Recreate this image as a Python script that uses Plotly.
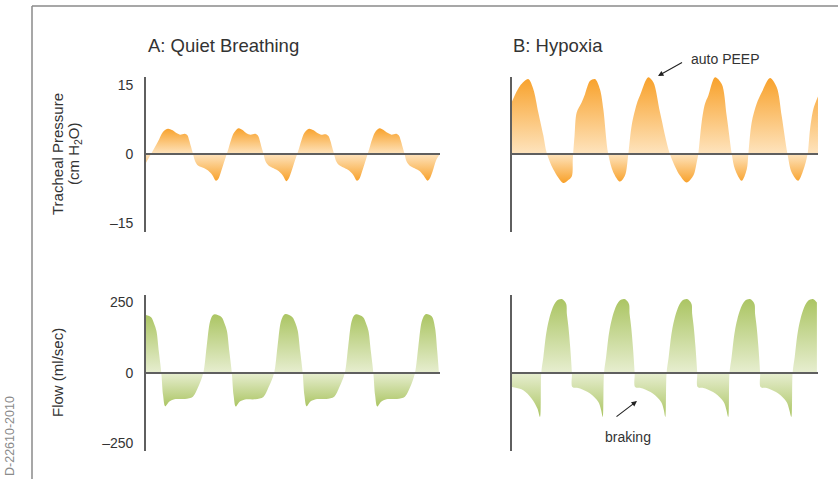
import plotly.graph_objects as go

# ---------------------------------------------------------------------------
# Data: time (s) and signal values, one list per series
# ---------------------------------------------------------------------------

# A: quiet breathing - tracheal pressure (cm H2O)
quiet_pressure_t = [
    0.00, 0.32, 0.68, 0.96,
    1.25, 1.48, 1.70, 1.93, 2.20, 2.35, 2.45, 2.56, 2.67, 2.78, 2.95, 3.24, 3.52, 3.75, 3.97, 4.09, 4.26, 4.48, 4.65, 4.82, 4.99,
    5.25, 5.48, 5.70, 5.93, 6.20, 6.35, 6.45, 6.56, 6.67, 6.78, 6.95, 7.24, 7.52, 7.75, 7.97, 8.09, 8.26, 8.48, 8.65, 8.82, 8.99,
    9.25, 9.48, 9.70, 9.93, 10.20, 10.35, 10.45, 10.56, 10.67, 10.78, 10.95, 11.24, 11.52, 11.75, 11.97, 12.09, 12.26, 12.48, 12.65, 12.82, 12.99,
    13.25, 13.48, 13.70, 13.93, 14.20, 14.35, 14.45, 14.56, 14.67, 14.78, 14.95, 15.24, 15.52, 15.75, 15.97, 16.09, 16.26, 16.48, 16.62,
]
quiet_pressure = [
    -1.9, 0.2, 2.7, 4.8,
    5.5, 5.2, 4.6, 4.2, 4.4, 4.1, 3.0, 1.5, 0.0, -1.5, -2.5, -3.0, -3.6, -4.5, -5.8, -5.5, -3.8, -1.2, 0.8, 3.0, 4.6,
    5.6, 5.2, 4.5, 4.2, 4.4, 4.0, 3.0, 1.4, 0.0, -1.6, -2.5, -3.1, -3.7, -4.6, -5.9, -5.4, -3.7, -1.1, 0.8, 3.0, 4.6,
    5.5, 5.2, 4.6, 4.2, 4.3, 3.9, 3.0, 1.5, 0.0, -1.5, -2.4, -3.0, -3.6, -4.5, -5.8, -5.5, -3.8, -1.2, 0.9, 3.1, 4.7,
    5.6, 5.2, 4.6, 4.2, 4.4, 4.0, 3.0, 1.5, 0.0, -1.6, -2.5, -3.1, -3.7, -4.7, -5.8, -5.4, -3.8, -1.2, -0.3,
]

# A: quiet breathing - flow (ml/sec)
quiet_flow_t = [
    0.00, 0.29, 0.46, 0.59, 0.73, 0.87, 0.97, 1.09, 1.31, 1.61, 2.21, 2.66, 2.96, 3.25, 3.44, 3.63, 3.79,
    3.91, 4.29, 4.46, 4.59, 4.73, 4.87, 4.97, 5.09, 5.31, 5.61, 6.21, 6.66, 6.96, 7.27, 7.46, 7.65, 7.81,
    7.93, 8.31, 8.48, 8.61, 8.75, 8.89, 8.99, 9.11, 9.33, 9.63, 10.23, 10.68, 10.98, 11.28, 11.47, 11.66, 11.82,
    11.94, 12.32, 12.49, 12.62, 12.76, 12.90, 13.00, 13.12, 13.34, 13.64, 14.24, 14.69, 14.99, 15.26, 15.45, 15.64, 15.80,
    15.92, 16.22, 16.40, 16.52, 16.62,
]
quiet_flow = [
    206, 198, 175, 150, 75, 0, -80, -118, -102, -93, -92, -84, -50, 0, 93, 182, 205,
    208, 198, 175, 150, 75, 0, -80, -119, -102, -94, -93, -85, -50, 0, 93, 182, 205,
    209, 198, 176, 150, 75, 0, -80, -118, -101, -93, -92, -84, -49, 0, 93, 182, 205,
    208, 198, 175, 150, 75, 0, -80, -119, -102, -93, -92, -84, -50, 0, 93, 182, 205,
    209, 200, 160, 80, 0,
]

# B: hypoxia - tracheal pressure (cm H2O)
hypoxia_pressure_t = [
    0.00, 0.45, 0.92, 1.21, 1.49, 1.78, 1.97, 2.34, 2.91, 3.15, 3.39, 3.45, 3.55, 3.67, 3.95, 4.14, 4.43, 4.71, 4.99, 5.18,
    5.46, 5.75, 6.13, 6.41, 6.60, 6.79, 7.08, 7.26, 7.73, 8.02, 8.40,
    8.96, 9.53, 9.91, 10.29, 10.48, 10.57, 10.76, 10.95, 11.14, 11.52, 11.90, 12.18,
    12.47, 12.65, 13.03, 13.32, 13.41, 13.60, 13.88, 14.17, 14.64, 15.02, 15.30,
    15.63, 15.87, 16.24, 16.53, 16.77, 16.91, 17.10, 17.36,
]
hypoxia_pressure = [
    11.4, 14.8, 16.3, 14.1, 9.1, 4.0, 0.2, -3.3, -6.3, -5.8, -4.9, -1.0, 4.0, 9.0, 11.2, 13.0, 15.9, 16.3, 14.1, 9.8,
    0.0, -4.0, -6.0, -4.7, 0.0, 6.2, 10.9, 12.7, 16.7, 15.6, 9.0,
    0.0, -4.7, -6.2, -4.7, -1.8, 0.0, 6.9, 10.9, 12.7, 16.7, 15.2, 8.3,
    0.0, -3.3, -5.8, -3.3, 0.0, 6.9, 10.9, 13.4, 16.5, 14.5, 8.3,
    0.0, -4.0, -5.8, -3.5, 0.0, 5.4, 9.8, 12.5,
]

# B: hypoxia - flow (ml/sec)
hypoxia_flow_t = [
    0.00, 0.64, 1.12, 1.44,
    1.59, 1.66, 1.78, 1.97, 2.25, 2.54, 2.82, 3.07, 3.11, 3.20, 3.30, 3.40, 3.43, 3.86, 4.43, 4.90, 5.05,
    5.15, 5.22, 5.34, 5.53, 5.81, 6.10, 6.38, 6.63, 6.67, 6.76, 6.86, 6.96, 6.99, 7.42, 7.99, 8.46, 8.61,
    8.70, 8.77, 8.89, 9.08, 9.36, 9.65, 9.93, 10.18, 10.22, 10.31, 10.41, 10.51, 10.54, 10.97, 11.54, 12.01, 12.16,
    12.27, 12.34, 12.46, 12.65, 12.93, 13.22, 13.50, 13.75, 13.79, 13.88, 13.98, 14.08, 14.11, 14.54, 15.11, 15.58, 15.73,
    15.85, 15.92, 16.04, 16.23, 16.51, 16.80, 17.08, 17.30,
]
hypoxia_flow = [
    -50, -61, -91, -126,
    -156, 0, 57, 151, 222, 256, 262, 246, 211, 164, 93, 0, -50, -55, -73, -103, -130,
    -156, 0, 57, 151, 222, 256, 262, 246, 211, 164, 93, 0, -50, -55, -73, -103, -130,
    -156, 0, 57, 151, 222, 256, 262, 246, 211, 164, 93, 0, -50, -55, -73, -103, -130,
    -156, 0, 57, 151, 222, 256, 262, 246, 211, 164, 93, 0, -50, -55, -73, -103, -130,
    -156, 0, 57, 151, 222, 256, 262, 250,
]

panel_titles = ["A: Quiet Breathing", "B: Hypoxia"]
pressure_ticks = [-15, 0, 15]
pressure_ticktext = ["\u201315", "0", "15"]
flow_ticks = [-250, 0, 250]
flow_ticktext = ["\u2013250", "0", "250"]

# ---------------------------------------------------------------------------
# Layout helpers (pixel geometry of the 838 x 479 canvas)
# ---------------------------------------------------------------------------
W, H = 838, 479
FONT = "Liberation Sans, Arial, Helvetica, sans-serif"
TEXT = "#333333"
AXIS = "#5f5f5f"


def fx(px):
    return px / W


def fy(py):
    return 1 - py / H


ORANGE_DARK, ORANGE_LIGHT = "#F8A12A", "#FEE4BE"
GREEN_DARK, GREEN_LIGHT = "#ABC563", "#E7EED0"

fig = go.Figure()


def add_wave(t, v, xa, ya, dark, light):
    lo, hi = min(v), max(v)
    mid = -lo / (hi - lo)
    fig.add_trace(go.Scatter(
        x=t, y=v, xaxis=xa, yaxis=ya, mode="lines",
        line=dict(width=0, shape="spline", smoothing=0.9),
        fill="tozeroy",
        fillgradient=dict(type="vertical", start=lo, stop=hi,
                          colorscale=[[0, dark], [mid, light], [1, dark]]),
        hoverinfo="skip", showlegend=False,
    ))


add_wave(quiet_pressure_t, quiet_pressure, "x", "y", ORANGE_DARK, ORANGE_LIGHT)
add_wave(hypoxia_pressure_t, hypoxia_pressure, "x2", "y2", ORANGE_DARK, ORANGE_LIGHT)
add_wave(quiet_flow_t, quiet_flow, "x3", "y3", GREEN_DARK, GREEN_LIGHT)
add_wave(hypoxia_flow_t, hypoxia_flow, "x4", "y4", GREEN_DARK, GREEN_LIGHT)

PX_PER_S = 17.625
left_x = (146, 440)
right_x = (512, 818)
top_y = (77, 232)
bot_y = (295, 451)
left_range = [0, (left_x[1] - left_x[0]) / PX_PER_S]
right_range = [0, (right_x[1] - right_x[0]) / PX_PER_S]
p_range = [-(232 - 154) / 4.6, (154 - 77) / 4.6]
f_range = [-(451 - 373) / 0.282, (373 - 295) / 0.282]


def xaxis(px_span, rng, anchor):
    return dict(domain=[fx(px_span[0]), fx(px_span[1])], range=rng, anchor=anchor,
                visible=False, fixedrange=True)


def yaxis(py_span, rng, anchor, tickvals=None, ticktext=None):
    d = dict(domain=[fy(py_span[1]), fy(py_span[0])], range=rng, anchor=anchor,
             showline=True, linecolor=AXIS, linewidth=1.6, showgrid=False,
             zeroline=False, ticks="", fixedrange=True)
    if tickvals is None:
        d["showticklabels"] = False
    else:
        d.update(tickmode="array", tickvals=tickvals, ticktext=ticktext,
                 tickfont=dict(size=14, color=TEXT, family=FONT),
                 ticklabelstandoff=8)
    return d


fig.update_layout(
    width=W, height=H,
    margin=dict(l=0, r=0, t=0, b=0),
    paper_bgcolor="white", plot_bgcolor="rgba(0,0,0,0)",
    font=dict(family=FONT, color=TEXT),
    xaxis=xaxis(left_x, left_range, "y"),
    yaxis=yaxis(top_y, p_range, "x", pressure_ticks, pressure_ticktext),
    xaxis2=xaxis(right_x, right_range, "y2"),
    yaxis2=yaxis(top_y, p_range, "x2"),
    xaxis3=xaxis(left_x, left_range, "y3"),
    yaxis3=yaxis(bot_y, f_range, "x3", flow_ticks, flow_ticktext),
    xaxis4=xaxis(right_x, right_range, "y4"),
    yaxis4=yaxis(bot_y, f_range, "x4"),
)

# Baselines at zero, drawn over the fills
shapes = []
for xr, yr, rng in [("x", "y", left_range), ("x2", "y2", right_range),
                    ("x3", "y3", left_range), ("x4", "y4", right_range)]:
    shapes.append(dict(type="line", xref=xr, yref=yr, x0=rng[0], x1=rng[1], y0=0, y1=0,
                       line=dict(color=AXIS, width=2), layer="above"))

# Page frame
frame = dict(color="#8a8a8a", width=1.5)
shapes.append(dict(type="line", xref="paper", yref="paper", x0=fx(32), x1=1,
                   y0=fy(6), y1=fy(6), line=frame))
shapes.append(dict(type="line", xref="paper", yref="paper", x0=fx(32), x1=fx(32),
                   y0=fy(6), y1=0, line=frame))
fig.update_layout(shapes=shapes)


def label(text, px, py, size, xanchor="center", angle=0, color=TEXT, yanchor="middle"):
    return dict(text=text, x=fx(px), y=fy(py), xref="paper", yref="paper",
                xanchor=xanchor, yanchor=yanchor, textangle=angle, showarrow=False,
                font=dict(size=size, color=color))


def callout(text, head, box_corner, xanchor, yanchor, gap):
    """Text box anchored at box_corner with an arrow pointing to head (pixels)."""
    return dict(text=text, x=fx(head[0]), y=fy(head[1]), xref="paper", yref="paper",
                showarrow=True, ax=box_corner[0] - head[0], ay=box_corner[1] - head[1],
                xanchor=xanchor, yanchor=yanchor, startstandoff=gap,
                arrowhead=2, arrowsize=1, arrowwidth=1.1, arrowcolor="#222222",
                font=dict(size=14, color=TEXT))


ann = [
    # Panel titles
    label(panel_titles[0], 146, 45, 18.5, xanchor="left"),
    label(panel_titles[1], 511, 45, 18.5, xanchor="left"),
    # Axis titles
    label("Tracheal Pressure", 57, 154, 15, angle=-90),
    label("(cm H<sub>2</sub>O)", 74, 154, 15, angle=-90),
    label("Flow (ml/sec)", 57, 373, 15, angle=-90),
    # Callouts
    callout("auto PEEP", (658, 76), (689, 58.5), "left", "middle", 8),
    callout("braking", (637, 401), (603, 427), "left", "top", 17),
    # Figure id along the left edge
    label("D-22610-2010", 10, 478, 12.5, angle=-90, color="#8a8a8a", yanchor="bottom"),
]
fig.update_layout(annotations=ann)

fig.write_html("out.html")
